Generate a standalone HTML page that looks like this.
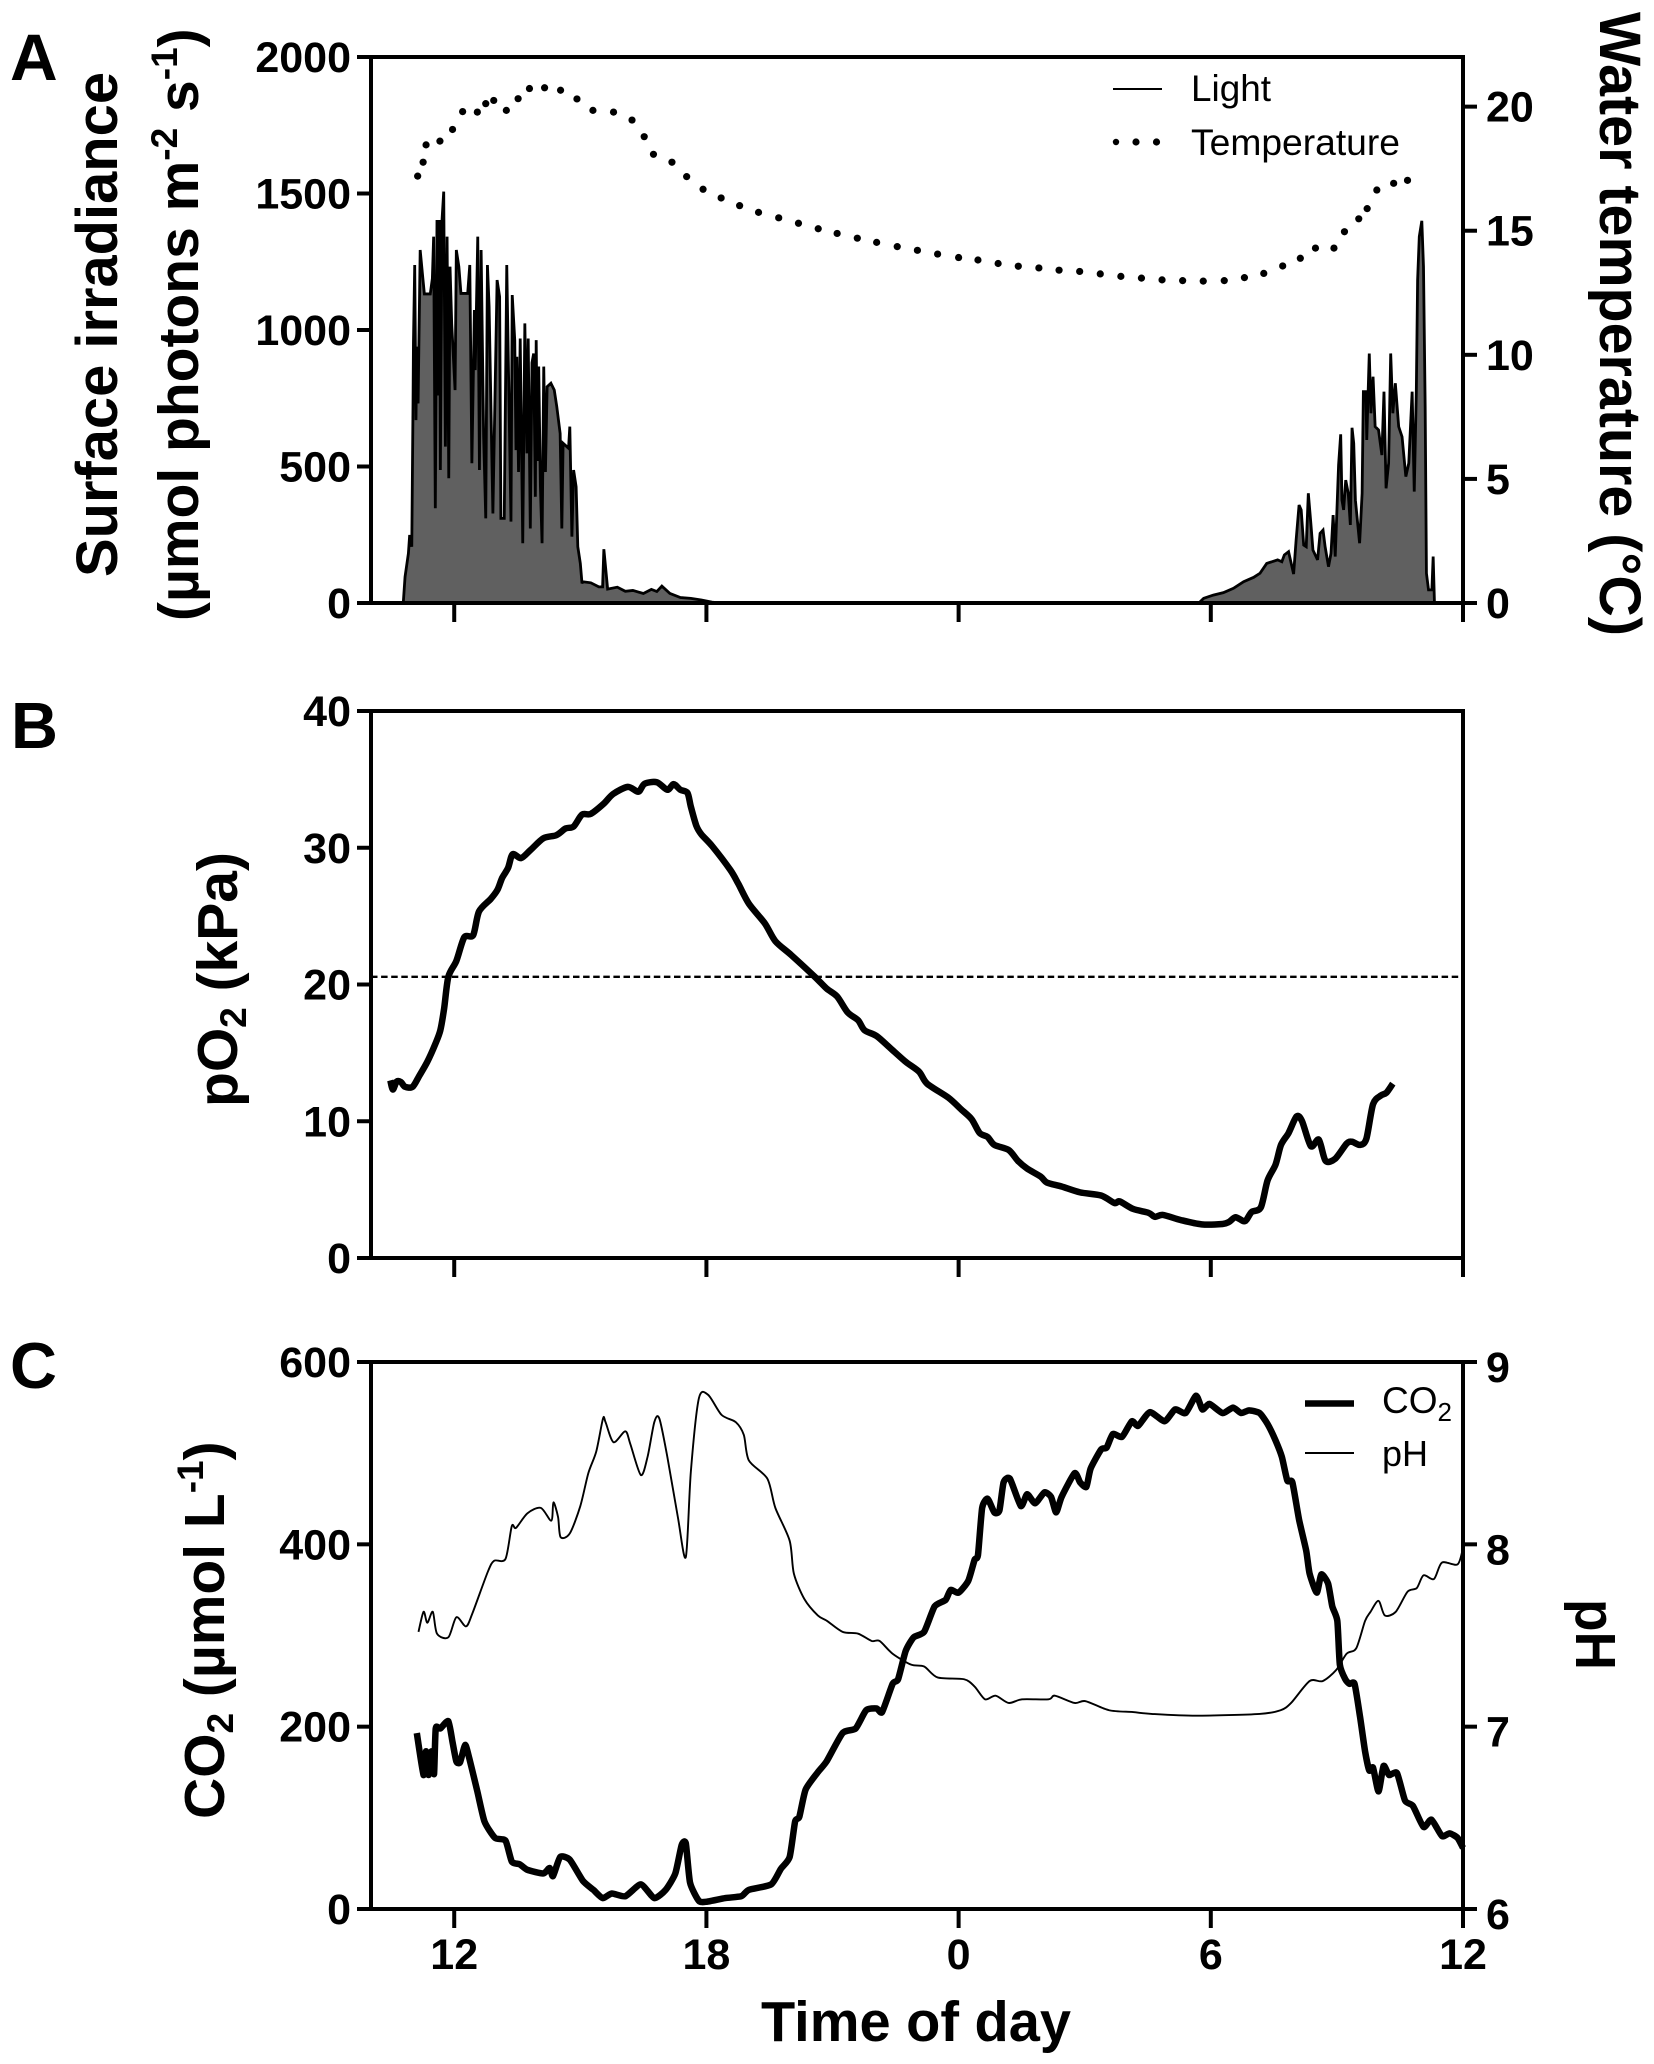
<!DOCTYPE html>
<html lang="en">
<head>
<meta charset="utf-8">
<title>Irradiance, temperature, pO2, CO2 and pH over time of day</title>
<style>
html,body{margin:0;padding:0;background:#fff;}
svg{display:block;}
text{font-family:"Liberation Sans",sans-serif;fill:#000;}
.b{font-weight:700;}
</style>
</head>
<body>
<svg id="chart" xmlns="http://www.w3.org/2000/svg" width="1654" height="2064" viewBox="0 0 1654 2064">
<rect x="0" y="0" width="1654" height="2064" fill="#fff"/>
<g id="marks"></g>
<g id="axes"></g>

<text class="b" x="10" y="80" font-size="66">A</text>
<text class="b" x="11" y="748" font-size="65">B</text>
<text class="b" x="10" y="1388" font-size="65">C</text>

<text class="b" transform="translate(117,577) rotate(-90)" font-size="58" textLength="505" lengthAdjust="spacingAndGlyphs">Surface irradiance</text>
<text class="b" transform="translate(198,621) rotate(-90)" font-size="57">(µmol photons m<tspan font-size="37" dy="-21">-2</tspan><tspan dy="21"> s</tspan><tspan font-size="37" dy="-21">-1</tspan><tspan dy="21">)</tspan></text>
<text class="b" transform="translate(1600,12) rotate(90)" font-size="58" textLength="624" lengthAdjust="spacingAndGlyphs">Water temperature (°C)</text>

<text class="b" transform="translate(237,1107) rotate(-90)" font-size="57">pO<tspan font-size="37" dy="9">2</tspan><tspan dy="-9"> (kPa)</tspan></text>

<text class="b" transform="translate(224,1819) rotate(-90)" font-size="57">CO<tspan font-size="37" dy="9">2</tspan><tspan dy="-9"> (µmol L</tspan><tspan font-size="37" dy="-21">-1</tspan><tspan dy="21">)</tspan></text>
<text class="b" transform="translate(1576,1599) rotate(90)" font-size="57" textLength="71" lengthAdjust="spacingAndGlyphs">pH</text>

<text class="b" x="761" y="2041" font-size="57" textLength="310" lengthAdjust="spacingAndGlyphs">Time of day</text>

<g>
<line x1="1113" y1="89" x2="1162" y2="89" stroke="#000" stroke-width="2"/>
<text x="1191" y="101" font-size="37" textLength="80" lengthAdjust="spacingAndGlyphs">Light</text>
<circle cx="1116" cy="142" r="3.2" fill="#000"/>
<circle cx="1136" cy="142" r="3.6" fill="#000"/>
<circle cx="1156.5" cy="142" r="3.6" fill="#000"/>
<text x="1191" y="155" font-size="37" textLength="209" lengthAdjust="spacingAndGlyphs">Temperature</text>
</g>

<g>
<line x1="1305" y1="1403.5" x2="1354" y2="1403.5" stroke="#000" stroke-width="6.5"/>
<text x="1382" y="1413" font-size="37">CO<tspan font-size="26" dy="8">2</tspan></text>
<line x1="1305" y1="1453" x2="1354" y2="1453" stroke="#000" stroke-width="2"/>
<text x="1382" y="1466" font-size="36">pH</text>
</g>
</svg>

<script>
/* ---------- chart data ---------- */
const xTickHours = [12, 18, 24, 30, 36];
const xTickLabels = ["12", "18", "0", "6", "12"];

const irradianceTicks = [0, 500, 1000, 1500, 2000];
const temperatureTicks = [0, 5, 10, 15, 20];
const po2Ticks = [0, 10, 20, 30, 40];
const co2Ticks = [0, 200, 400, 600];
const phTicks = [6, 7, 8, 9];

const airSaturationKpa = 20.56;

const lightHours = [10.79,10.83,10.91,10.94,10.99,11.02,11.03,11.06,11.09,11.11,11.14,11.19,11.25,11.29,11.43,11.48,11.51,11.55,11.59,11.62,11.65,11.67,11.71,11.75,11.79,11.83,11.87,11.90,11.94,12.02,12.05,12.11,12.16,12.32,12.37,12.42,12.48,12.50,12.56,12.60,12.64,12.70,12.75,12.79,12.83,12.92,13.02,13.08,13.11,13.19,13.25,13.35,13.38,13.44,13.47,13.49,13.53,13.57,13.63,13.68,13.73,13.76,13.81,13.85,13.89,13.93,13.95,13.98,14.01,14.05,14.09,14.13,14.17,14.21,14.30,14.38,14.44,14.52,14.56,14.59,14.72,14.75,14.80,14.84,14.90,14.94,15.00,15.04,15.06,15.25,15.44,15.53,15.56,15.65,15.88,16.07,16.25,16.50,16.69,16.82,16.94,17.13,17.38,17.63,17.88,18.13,18.32,29.72,29.75,29.83,30.06,30.30,30.54,30.78,31.02,31.17,31.33,31.45,31.59,31.69,31.75,31.85,31.97,32.03,32.10,32.15,32.21,32.27,32.32,32.38,32.43,32.54,32.60,32.67,32.72,32.80,32.86,32.91,32.96,33.04,33.09,33.12,33.16,33.21,33.27,33.32,33.36,33.40,33.44,33.54,33.60,33.63,33.69,33.71,33.77,33.81,33.86,33.91,33.99,34.07,34.12,34.17,34.23,34.28,34.33,34.39,34.47,34.55,34.64,34.71,34.79,34.84,34.89,34.92,34.96,35.02,35.06,35.10,35.13,35.18,35.26,35.29,35.32];
const lightValues = [5,96,182,249,206,731,951,1238,670,939,731,1293,1195,1132,1132,1189,1342,347,1403,760,1403,487,1403,1507,573,1342,457,1232,1024,780,1293,1232,1134,1134,1238,512,1073,853,1342,487,1293,609,310,1238,1085,328,1183,1122,310,310,1238,298,1128,963,560,902,480,969,219,1024,548,969,273,880,914,389,963,520,866,430,219,866,480,792,805,780,719,621,273,585,567,646,243,487,426,206,145,72,78,74,59,59,197,51,58,43,46,35,50,42,62,35,20,17,11,3,0,0,5,17,29,38,54,78,94,109,145,151,158,151,176,188,106,231,359,341,212,206,402,292,194,158,255,267,206,133,182,322,170,505,618,377,341,450,402,286,642,585,377,219,402,774,774,597,914,695,829,646,634,542,774,420,512,914,695,805,646,609,463,512,774,408,780,1183,1342,1400,1232,719,109,48,48,170,5];

const tempHours = [11.13,11.26,11.33,11.66,11.96,12.2,12.55,12.75,12.94,13.24,13.52,13.79,14.15,14.53,14.92,15.3,15.79,16.23,16.52,16.74,17.18,17.53,17.92,18.35,18.79,19.24,19.72,20.19,20.66,21.11,21.59,22.05,22.54,23.02,23.5,24,24.46,24.94,25.42,25.91,26.39,26.88,27.37,27.86,28.35,28.84,29.33,29.82,30.32,30.8,31.26,31.71,32.13,32.49,32.93,33.18,33.52,33.72,33.95,34.35,34.68];
const tempValues = [17.2,17.76,18.46,18.61,19.08,19.8,19.78,20.12,20.25,19.85,20.32,20.73,20.76,20.66,20.31,19.85,19.78,19.46,18.79,18.08,17.76,17.18,16.67,16.32,16.01,15.74,15.52,15.3,15.08,14.89,14.7,14.53,14.36,14.21,14.06,13.92,13.82,13.68,13.57,13.5,13.41,13.36,13.26,13.16,13.09,13.02,12.99,12.97,12.99,13.11,13.28,13.58,13.89,14.3,14.3,14.96,15.48,15.89,16.64,16.91,17.03];

const po2Hours = [10.48,10.54,10.63,10.73,10.83,11.01,11.17,11.36,11.55,11.67,11.76,11.86,12.05,12.24,12.45,12.59,12.87,13.03,13.14,13.28,13.39,13.59,13.81,14.12,14.43,14.65,14.84,15.04,15.25,15.56,15.78,16.13,16.38,16.53,16.82,17.07,17.22,17.38,17.55,17.63,17.76,17.88,18.14,18.57,18.76,19.01,19.39,19.64,20.02,20.58,20.86,21.11,21.36,21.61,21.76,22.05,22.37,22.74,23.06,23.25,23.75,24.06,24.31,24.5,24.69,24.85,25.19,25.41,25.63,25.95,26.1,26.45,26.89,27.39,27.71,27.83,28.15,28.52,28.67,28.86,29.28,29.78,30.28,30.43,30.59,30.81,30.97,31.19,31.35,31.54,31.67,31.85,32.04,32.17,32.38,32.57,32.73,32.96,33.23,33.36,33.55,33.7,33.86,34.05,34.18,34.33];
const po2Values = [12.99,12.32,12.9,12.87,12.52,12.52,13.33,14.35,15.65,16.66,18.25,20.56,21.72,23.46,23.6,25.34,26.26,26.93,27.79,28.52,29.53,29.24,29.82,30.69,30.92,31.41,31.55,32.42,32.48,33.23,33.93,34.45,34.1,34.68,34.79,34.24,34.65,34.24,34.01,33,31.61,30.98,30.11,28.37,27.36,25.91,24.47,23.17,22.15,20.56,19.7,19.12,17.96,17.38,16.66,16.23,15.36,14.35,13.62,12.75,11.74,10.87,10.15,9.14,8.85,8.27,7.9,7.11,6.54,5.96,5.52,5.23,4.8,4.57,4.02,4.14,3.59,3.3,3.01,3.15,2.78,2.46,2.49,2.63,2.98,2.69,3.36,3.7,5.67,6.83,8.27,9.14,10.35,10.01,8.18,8.65,7.11,7.26,8.36,8.5,8.27,8.71,11.25,11.89,12.09,12.75];

const co2Hours = [11.11,11.27,11.33,11.39,11.46,11.52,11.56,11.67,11.86,11.96,12.05,12.14,12.26,12.36,12.55,12.72,12.97,13.22,13.37,13.56,13.74,14.12,14.27,14.35,14.52,14.75,15.06,15.31,15.53,15.75,16.07,16.44,16.76,17.03,17.26,17.41,17.51,17.61,17.82,18.01,18.45,18.83,19.01,19.54,19.77,19.98,20.11,20.21,20.36,20.65,20.86,21.24,21.55,21.8,22.05,22.18,22.43,22.56,22.74,22.93,23.18,23.43,23.69,23.81,24,24.23,24.38,24.46,24.56,24.69,24.85,24.97,25.07,25.22,25.48,25.63,25.82,26.04,26.2,26.32,26.45,26.76,26.89,27.04,27.14,27.39,27.52,27.67,27.89,28.12,28.27,28.55,28.9,29.15,29.4,29.65,29.8,29.97,30.28,30.53,30.72,30.91,31.16,31.35,31.54,31.69,31.82,31.94,32.1,32.27,32.35,32.52,32.63,32.79,32.89,33.01,33.07,33.2,33.3,33.42,33.55,33.67,33.77,33.86,33.99,34.11,34.24,34.43,34.62,34.81,35.06,35.25,35.5,35.68,35.87,36];
const co2Values = [193,147,173,147,173,148,198,198,206,183,162,161,180,165,129,96,78,75,52,49,43,39,45,36,57,54,31,21,12,17,14,27,12,21,39,70,72,29,9,8,12,14,21,27,44,57,96,101,131,150,162,193,198,218,220,216,247,252,283,298,304,332,339,350,347,360,383,388,440,450,435,437,468,472,442,455,445,457,452,435,452,478,468,463,483,504,506,521,518,535,530,545,535,548,544,563,548,554,544,550,544,547,544,532,514,496,470,468,427,393,368,347,367,357,332,316,268,252,247,247,211,173,152,155,129,157,147,149,119,113,90,98,80,83,78,67];

const phHours = [11.15,11.27,11.36,11.49,11.59,11.86,12.05,12.28,12.43,12.8,12.95,13.22,13.37,13.47,13.74,14.06,14.31,14.36,14.47,14.53,14.75,15,15.19,15.38,15.54,15.6,15.79,16.07,16.19,16.44,16.6,16.76,16.88,17.07,17.32,17.51,17.63,17.82,18.04,18.36,18.7,18.89,19.01,19.45,19.64,19.98,20.08,20.33,20.65,20.87,21.24,21.61,21.93,22.12,22.43,22.87,23.18,23.5,24.13,24.38,24.63,24.88,25.19,25.51,26.14,26.29,26.76,27.02,27.58,28.15,28.59,29.65,31.16,31.66,31.91,32.35,32.66,32.98,33.23,33.46,33.67,33.8,33.99,34.14,34.4,34.68,34.9,35.06,35.31,35.5,35.87,36];
const phValues = [7.52,7.63,7.57,7.63,7.51,7.49,7.6,7.55,7.62,7.85,7.91,7.92,8.1,8.09,8.17,8.2,8.13,8.23,8.15,8.04,8.06,8.21,8.39,8.51,8.69,8.67,8.56,8.62,8.55,8.38,8.48,8.67,8.69,8.48,8.15,7.93,8.4,8.8,8.82,8.71,8.67,8.6,8.46,8.36,8.2,8.02,7.84,7.7,7.61,7.58,7.52,7.51,7.47,7.47,7.4,7.34,7.33,7.27,7.26,7.22,7.15,7.17,7.13,7.15,7.15,7.17,7.13,7.14,7.09,7.08,7.07,7.06,7.07,7.09,7.13,7.25,7.25,7.31,7.4,7.43,7.58,7.63,7.69,7.61,7.63,7.74,7.76,7.83,7.81,7.9,7.89,7.98];

/* ---------- axis functions ---------- */
const NS = "http://www.w3.org/2000/svg";
const marks = document.getElementById("marks");
const axes = document.getElementById("axes");
const AXIS_W = 4;

function linear(d0, d1, r0, r1) {
  return function (v) { return r0 + (v - d0) * (r1 - r0) / (d1 - d0); };
}
const X = linear(10.02, 36, 371, 1463);
const yIrradiance = linear(0, 2000, 603, 57);
const yTemperature = linear(0, 22, 603, 57);
const yPo2 = linear(0, 40, 1258, 711);
const yCo2 = linear(0, 600, 1909, 1362);
const yPh = linear(6, 9, 1909, 1362);

function make(tag, attrs, parent) {
  const el = document.createElementNS(NS, tag);
  for (const k in attrs) el.setAttribute(k, attrs[k]);
  parent.appendChild(el);
  return el;
}
function linePath(xs, ys, yFn) {
  let d = "";
  for (let i = 0; i < xs.length; i++) {
    d += (i ? "L" : "M") + X(xs[i]).toFixed(2) + " " + yFn(ys[i]).toFixed(2);
  }
  return d;
}
/* curve through every data point (Catmull-Rom), to match the smooth traces */
function curvePath(xs, ys, yFn, k) {
  const px = xs.map(X);
  const py = ys.map(yFn);
  const n = px.length;
  let d = "M" + px[0].toFixed(2) + " " + py[0].toFixed(2);
  for (let i = 0; i < n - 1; i++) {
    const a = Math.max(i - 1, 0);
    const b = Math.min(i + 2, n - 1);
    const c1x = px[i] + (px[i + 1] - px[a]) * k;
    const c1y = py[i] + (py[i + 1] - py[a]) * k;
    const c2x = px[i + 1] - (px[b] - px[i]) * k;
    const c2y = py[i + 1] - (py[b] - py[i]) * k;
    d += "C" + c1x.toFixed(2) + " " + c1y.toFixed(2) + " " + c2x.toFixed(2) + " " + c2y.toFixed(2) + " " + px[i + 1].toFixed(2) + " " + py[i + 1].toFixed(2);
  }
  return d;
}
function axisLine(x1, y1, x2, y2, name) {
  const el = make("line", {x1: x1, y1: y1, x2: x2, y2: y2, stroke: "#000", "stroke-width": AXIS_W, "stroke-linecap": "butt"}, axes);
  
  
  return el;
}
function tickText(x, y, label, anchor, name) {
  const el = make("text", {x: x, y: y, "text-anchor": anchor, "font-size": 43, "font-weight": 700}, axes);
  el.textContent = label;
  
  
  return el;
}
function drawFrame(top, bottom, panel) {
  axisLine(369, top, 1465, top, panel + "-top-axis");
  axisLine(369, bottom, 1465, bottom, panel + "-bottom-axis");
  axisLine(371, top, 371, bottom, panel + "-left-axis");
  axisLine(1463, top, 1463, bottom, panel + "-right-axis");
  xTickHours.forEach(function (h) {
    axisLine(X(h), bottom, X(h), bottom + 19, panel + "-x-tick-" + h);
  });
}
function drawLeftTicks(ticks, yFn, panel) {
  ticks.forEach(function (t) {
    axisLine(357, yFn(t), 371, yFn(t), panel + "-left-tick-" + t);
    tickText(351, yFn(t) + 15, String(t), "end", panel + "-left-tick-label-" + t);
  });
}
function drawRightTicks(ticks, yFn, panel, offset) {
  ticks.forEach(function (t) {
    axisLine(1463, yFn(t), 1477, yFn(t), panel + "-right-tick-" + t);
    tickText(1486, yFn(t) + offset, String(t), "start", panel + "-right-tick-label-" + t);
  });
}

/* ---------- panel A ---------- */
const areaPath = linePath(lightHours, lightValues, yIrradiance) +
  "L" + X(lightHours[lightHours.length - 1]).toFixed(2) + " " + yIrradiance(0) +
  "L" + X(lightHours[0]).toFixed(2) + " " + yIrradiance(0) + "Z";
const lightArea = make("path", {d: areaPath, fill: "#606060", stroke: "none"}, marks);


const lightLine = make("path", {d: linePath(lightHours, lightValues, yIrradiance), fill: "none", stroke: "#000", "stroke-width": 2.8, "stroke-linejoin": "miter", "stroke-miterlimit": 3}, marks);



tempHours.forEach(function (h, i) {
  const dot = make("circle", {cx: X(h).toFixed(2), cy: yTemperature(tempValues[i]).toFixed(2), r: 3.6, fill: "#000"}, marks);
  
  
});
drawFrame(57, 603, "panel-a");
drawLeftTicks(irradianceTicks, yIrradiance, "irradiance");
drawRightTicks(temperatureTicks, yTemperature, "temperature", 15);

/* ---------- panel B ---------- */
const satLine = make("line", {x1: 371, x2: 1463, y1: yPo2(airSaturationKpa), y2: yPo2(airSaturationKpa), stroke: "#000", "stroke-width": 2.4, "stroke-dasharray": "6.5 3.6"}, marks);


const po2Line = make("path", {d: curvePath(po2Hours, po2Values, yPo2, 0.14), fill: "none", stroke: "#000", "stroke-width": 6.5, "stroke-linejoin": "round"}, marks);


drawFrame(711, 1258, "panel-b");
drawLeftTicks(po2Ticks, yPo2, "po2");

/* ---------- panel C ---------- */
const phLine = make("path", {d: curvePath(phHours, phValues, yPh, 0.14), fill: "none", stroke: "#000", "stroke-width": 1.9, "stroke-linejoin": "round"}, marks);


const co2Line = make("path", {d: curvePath(co2Hours, co2Values, yCo2, 0.1), fill: "none", stroke: "#000", "stroke-width": 6.5, "stroke-linejoin": "round"}, marks);


drawFrame(1362, 1909, "panel-c");
drawLeftTicks(co2Ticks, yCo2, "co2");
drawRightTicks(phTicks, yPh, "ph", 20);

xTickHours.forEach(function (h, i) {
  tickText(X(h), 1969, xTickLabels[i], "middle", "x-tick-label-" + h);
});
</script>
</body>
</html>
